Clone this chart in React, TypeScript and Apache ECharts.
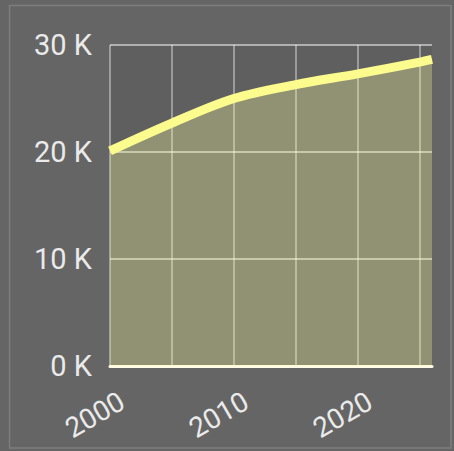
import React, { useEffect, useRef } from "react";
import * as echarts from "echarts";

const years = [2000, 2005, 2010, 2015, 2020, 2025, 2026];
const values = [20100, 22700, 25000, 26300, 27300, 28400, 28650];
const yTicks = [0, 10000, 20000, 30000];
const xLabelYears = [2000, 2010, 2020];

export default function App() {
  const ref = useRef<HTMLDivElement>(null);
  useEffect(() => {
    document.body.style.margin = "0";
    const chart = echarts.init(ref.current!, null, { renderer: "svg" });
    chart.setOption({
      animation: false,
      backgroundColor: "#656565",
      graphic: [
        {
          type: "rect",
          shape: { x: 9.5, y: 5.5, width: 441.5, height: 442.5 },
          style: { fill: "none", stroke: "#7e7e7e", lineWidth: 1.5 },
          silent: true,
        },
      ],
      grid: {
        left: 110,
        right: 22,
        top: 45,
        bottom: 85,
        show: true,
        backgroundColor: "#5f5f5f",
        borderWidth: 0,
      },
      xAxis: {
        type: "value",
        min: 2000,
        max: 2026,
        interval: 5,
        axisLine: { show: true, lineStyle: { color: "#fffbe8", width: 3 } },
        axisTick: { show: false },
        axisLabel: {
          rotate: 30,
          verticalAlign: "top",
          margin: 24,
          padding: [0, -6, 0, 0],
          color: "#eaeaea",
          fontFamily: "Roboto",
          fontSize: 28,
          showMaxLabel: false,
          formatter: (v: number) => (xLabelYears.includes(v) ? String(v) : ""),
        },
        splitLine: {
          show: true,
          showMaxLine: false,
          lineStyle: { color: "rgba(255,255,255,0.5)", width: 1.5 },
        },
      },
      yAxis: {
        type: "value",
        min: yTicks[0],
        max: yTicks[yTicks.length - 1],
        interval: 10000,
        axisLine: { show: false },
        axisTick: { show: false },
        axisLabel: {
          margin: 18,
          color: "#eaeaea",
          fontFamily: "Roboto",
          fontSize: 29,
          formatter: (v: number) => v / 1000 + " K",
        },
        splitLine: {
          show: true,
          showMinLine: false,
          lineStyle: { color: "rgba(255,255,255,0.5)", width: 2 },
        },
      },
      series: [
        {
          type: "line",
          data: years.map((y, i) => [y, values[i]]),
          smooth: 0.35,
          showSymbol: false,
          symbol: "none",
          lineStyle: { color: "#fbfb8e", width: 9, cap: "butt" },
          areaStyle: { color: "rgba(255,255,160,0.45)" },
        },
      ],
    });
    return () => chart.dispose();
  }, []);
  return (
    <div
      ref={ref}
      style={{ position: "fixed", left: 0, top: 0, width: 454, height: 451 }}
    />
  );
}
